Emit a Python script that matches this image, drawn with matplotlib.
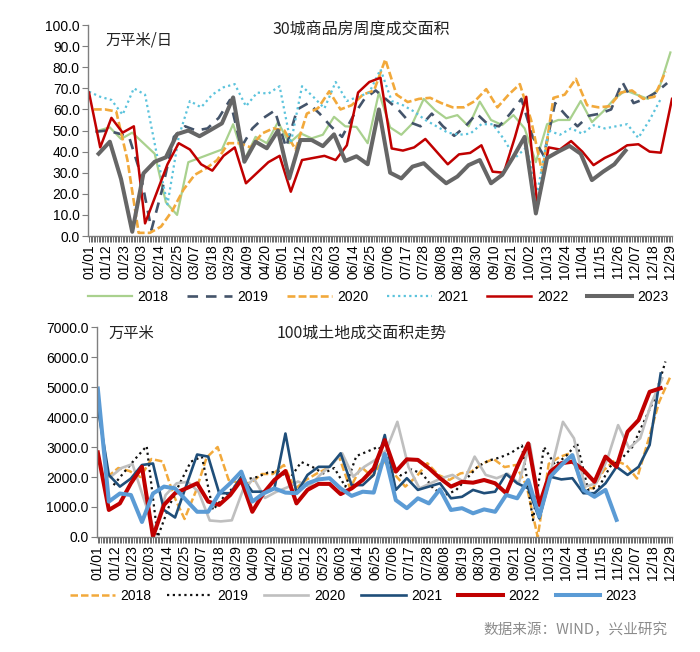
import numpy as np
import matplotlib
matplotlib.use("Agg")
import matplotlib.pyplot as plt
from matplotlib.ticker import MultipleLocator, FixedLocator, FormatStrFormatter

plt.rcParams['font.family'] = ['Liberation Sans', 'Noto Sans CJK SC', 'DejaVu Sans']

years = ["2018", "2019", "2020", "2021", "2022", "2023"]

# x 轴标签（闰年日历，每 11 天一个）
tick_labels = ["01/01", "01/12", "01/23", "02/03", "02/14", "02/25", "03/07",
               "03/18", "03/29", "04/09", "04/20", "05/01", "05/12", "05/23",
               "06/03", "06/14", "06/25", "07/06", "07/17", "07/28", "08/08",
               "08/19", "08/30", "09/10", "09/21", "10/02", "10/13", "10/24",
               "11/04", "11/15", "11/26", "12/07", "12/18", "12/29"]

# 30城商品房周度成交面积（万平米/日）
top_2018 = [50, 51.5, 46, 49, 44, 39, 16, 10, 35, 37,
            39, 41, 53, 36, 47, 44, 54, 44, 48.7, 46.3,
            48, 56.5, 52, 51.7, 44, 68, 51.5, 48, 53.4, 65,
            59.7, 55.8, 57.3, 52, 63.7, 55, 52.6, 57.3, 51, 35,
            53, 55, 55, 64, 54, 59, 65, 69, 67, 65,
            70, 87]
top_2019 = [49.4, 50, 48.7, 47, 30, 3, 23, 47, 52, 50,
            51, 56, 64.5, 42, 51, 56, 59.5, 42, 60, 63,
            58, 52, 47, 57, 65, 69, 64.5, 60, 54, 52,
            58, 52, 47.5, 52, 58, 53, 52, 58, 65, 47,
            38, 63, 57, 52, 57, 58, 60, 73, 63, 65,
            68, 72.5]
top_2020 = [60, 60, 59, 36, 1.5, 1.5, 4.5, 12, 22, 29,
            32, 36, 44, 44, 42, 48.6, 51, 50, 41, 58,
            60.6, 68.6, 60, 62, 67, 69, 83.7, 67, 63.5, 65,
            65.5, 63, 61, 61, 64, 69.6, 61, 67, 72, 55,
            30, 65.5, 67, 74.5, 62, 61, 61.5, 68, 69, 65,
            66, 78]
top_2021 = [68.4, 66, 64.5, 57.5, 70, 67, 40, 15, 47, 64,
            61, 67, 70.5, 72, 61.5, 68, 67.5, 71, 44, 71,
            66, 60.5, 73, 64, 66, 68, 79, 64, 62, 59,
            55, 52, 49, 48, 48.5, 53, 53, 46, 37, 42,
            21, 50, 48, 51, 48.5, 52.5, 51, 52, 53, 46.5,
            55, 65]
top_2022 = [68, 42, 56, 49, 52, 6, 20, 34, 44, 41,
            34, 31, 38, 42, 25, 30, 35, 38, 21, 36,
            37, 38, 36, 43, 68, 73, 75, 41.5, 40.5, 42,
            46, 40, 34, 38.7, 39.4, 43, 30.5, 30, 47, 66,
            14, 42, 41, 45, 40, 33.6, 37, 39.5, 43, 43.5,
            40, 39.5, 65]
top_2023 = [39, 44.7, 27, 2, 29.7, 35.2, 37.3, 48.3, 50, 47.3,
            50.3, 53.4, 65.7, 35.2, 44.7, 41.6, 50, 27.3, 45.5, 45.5,
            42.6, 48.2, 35.6, 37.8, 34, 60, 30, 27.3, 32.9, 34.5,
            29.5, 25, 28.2, 33.6, 36, 25, 29, 37.6, 47, 10.7,
            37, 40, 42.7, 39, 26.5, 30.5, 34, 40.5]

# 100城土地成交面积（万平米）
bot_2018 = [2000, 2300, 2200, 2000, 2600, 2520, 1400, 600, 1500, 2650,
            3000, 1900, 1800, 1800, 2100, 2100, 2400, 1600, 1900, 2120,
            2300, 2680, 1620, 2340, 2010, 2570, 2100, 1680, 2010, 2460,
            2070, 1900, 2120, 2180, 2450, 2600, 2330, 2400, 1700, 0,
            2440, 2670, 2800, 1680, 1620, 2230, 2560, 2400, 1950, 3200,
            4500, 5330]
bot_2019 = [1730, 2180, 2620, 3030, 0, 1000, 1790, 2510, 2680, 900,
            1340, 1700, 1920, 2000, 2150, 2180, 1960, 2500, 2340, 2120,
            2300, 1680, 2700, 2850, 3010, 2500, 2050, 2250, 2100, 1600,
            1400, 1550, 1950, 2350, 2550, 2650, 2800, 3050, 560, 3000,
            2400, 2700, 3120, 1570, 1680, 2350, 2600, 3000, 3800, 4600,
            5850]
bot_2020 = [2000, 2300, 2430, 1300, 200, 1400, 1790, 1840, 1500, 550,
            520, 556, 1560, 1950, 1300, 1500, 1650, 1850, 1680, 2070,
            2400, 2790, 2010, 2340, 2570, 2900, 3840, 2340, 1620, 1790,
            1960, 2070, 1840, 2680, 2070, 1960, 2110, 1790, 3100, 830,
            2340, 3840, 3290, 1680, 1790, 2570, 3730, 2960, 3290, 4450,
            5290]
bot_2021 = [4300, 2070, 1680, 1950, 2400, 2450, 900, 650, 1700, 2750,
            2680, 1460, 1460, 2010, 1510, 1510, 1620, 3450, 1460, 2070,
            2340, 2340, 2790, 1730, 1730, 2070, 3400, 1570, 1960, 1570,
            1680, 1790, 1290, 1340, 1570, 1460, 1510, 2100, 1790, 1620,
            620, 2010, 1920, 1960, 1460, 1460, 1790, 2340, 2070, 2340,
            3070, 5450]
bot_2022 = [2820, 900, 1120, 1790, 2340, 10, 1070, 1460, 1620, 1790,
            1180, 1070, 1400, 1900, 840, 1460, 1900, 2200, 1120, 1570,
            1770, 1770, 1430, 1620, 1900, 2290, 3230, 2180, 2590, 2570,
            2290, 1960, 1680, 1840, 1810, 1900, 1790, 1460, 2340, 3120,
            1070, 2180, 2460, 2510, 2230, 1840, 2680, 2340, 3510, 3900,
            4840, 4960]
bot_2023 = [4950, 1180, 1450, 1400, 500, 1450, 1680, 1620, 1230, 840,
            840, 1450, 1790, 2180, 1180, 1450, 1620, 1480, 1460, 1790,
            1920, 1960, 1620, 1370, 1510, 1480, 2770, 1230, 960, 1290,
            1120, 1590, 900, 960, 790, 920, 840, 1400, 1290, 1900,
            680, 2010, 2400, 2730, 1570, 1340, 1570, 570]

# 每年第一个周度数据所在的日序号
top_start = [6, 4, 3, 0, 0, 6]
bot_start = [6, 10, 8, 0, 0, 0]


def week_days(start, n):
    return start + 7 * np.arange(n)


def style_axis(ax, ymax, ystep):
    for s in ("top", "right"):
        ax.spines[s].set_visible(False)
    for s in ("left", "bottom"):
        ax.spines[s].set_color("#7f7f7f")
        ax.spines[s].set_linewidth(1.0)
    ax.set_xlim(-0.5, 364)
    ax.set_ylim(0, ymax)
    ax.yaxis.set_major_locator(MultipleLocator(ystep))
    ax.yaxis.set_major_formatter(FormatStrFormatter("%.1f"))
    ax.xaxis.set_major_locator(FixedLocator(np.arange(len(tick_labels)) * 11))
    ax.set_xticklabels(tick_labels, rotation=90)
    ax.xaxis.set_minor_locator(MultipleLocator(1))
    ax.tick_params(axis="x", which="both", direction="out", length=4,
                   width=0.6, color="#555555", labelsize=10, pad=2)
    ax.tick_params(axis="y", direction="out", length=4, width=0.8,
                   color="#7f7f7f", labelsize=10, pad=2)


def add_legend(ax, y_px, x_frac, colsp):
    h, l = ax.get_legend_handles_labels()
    fig.legend(h, l, loc="center", bbox_to_anchor=(x_frac, 1 - y_px / 652),
               ncol=6, frameon=False, fontsize=10, handlelength=3.2,
               columnspacing=colsp, handletextpad=0.4)


fig = plt.figure(figsize=(7, 6.52), dpi=100)

# 上图
ax1 = fig.add_axes([0.126, 0.638, 0.834, 0.3236])
top_series = [top_2018, top_2019, top_2020, top_2021, top_2022, top_2023]
top_styles = [
    dict(color="#A9D18E", lw=1.6, ls="-"),
    dict(color="#44546A", lw=1.9, ls=(0, (4, 3))),
    dict(color="#F2A93B", lw=1.9, ls=(0, (3, 1.2))),
    dict(color="#5BC3DC", lw=1.6, ls=(0, (1, 1.5))),
    dict(color="#C00000", lw=1.8, ls="-"),
    dict(color="#666666", lw=2.9, ls="-"),
]
for y, vals, st, d0 in zip(years, top_series, top_styles, top_start):
    ax1.plot(week_days(d0, len(vals)), vals, label=y, **st)
style_axis(ax1, 100, 10)
ax1.text(0.467, 0.975, "30城商品房周度成交面积", transform=ax1.transAxes,
         ha="center", va="center", fontsize=11.5, color="#222222",
         family=["Noto Sans CJK SC", "DejaVu Sans"])
ax1.text(0.03, 0.93, "万平米/日", transform=ax1.transAxes, ha="left",
         va="center", fontsize=11, color="#222222",
         family=["Noto Sans CJK SC", "DejaVu Sans"])
add_legend(ax1, 297, 0.54, 1.35)

# 下图
ax2 = fig.add_axes([0.1386, 0.1764, 0.821, 0.322])
bot_series = [bot_2018, bot_2019, bot_2020, bot_2021, bot_2022, bot_2023]
bot_styles = [
    dict(color="#F2A93B", lw=1.8, ls=(0, (3, 1.2))),
    dict(color="#111111", lw=1.6, ls=(0, (1, 1.6))),
    dict(color="#BFBFBF", lw=1.9, ls="-"),
    dict(color="#1F4E79", lw=1.9, ls="-"),
    dict(color="#C00000", lw=2.9, ls="-"),
    dict(color="#5B9BD5", lw=2.9, ls="-"),
]
for y, vals, st, d0 in zip(years, bot_series, bot_styles, bot_start):
    ax2.plot(week_days(d0, len(vals)), vals, label=y, **st)
style_axis(ax2, 7000, 1000)
ax2.text(0.46, 0.97, "100城土地成交面积走势", transform=ax2.transAxes,
         ha="center", va="center", fontsize=11.5, color="#222222",
         family=["Noto Sans CJK SC", "DejaVu Sans"])
ax2.text(0.02, 0.97, "万平米", transform=ax2.transAxes, ha="left",
         va="center", fontsize=11, color="#222222",
         family=["Noto Sans CJK SC", "DejaVu Sans"])
add_legend(ax2, 596, 0.505, 1.15)

fig.text(668 / 700, 1 - 630 / 652, "数据来源：WIND，兴业研究", ha="right",
         va="center", fontsize=10.5, color="#8c8c8c",
         family=["Noto Sans CJK SC", "DejaVu Sans"])

fig.savefig("out.png", dpi=100)
